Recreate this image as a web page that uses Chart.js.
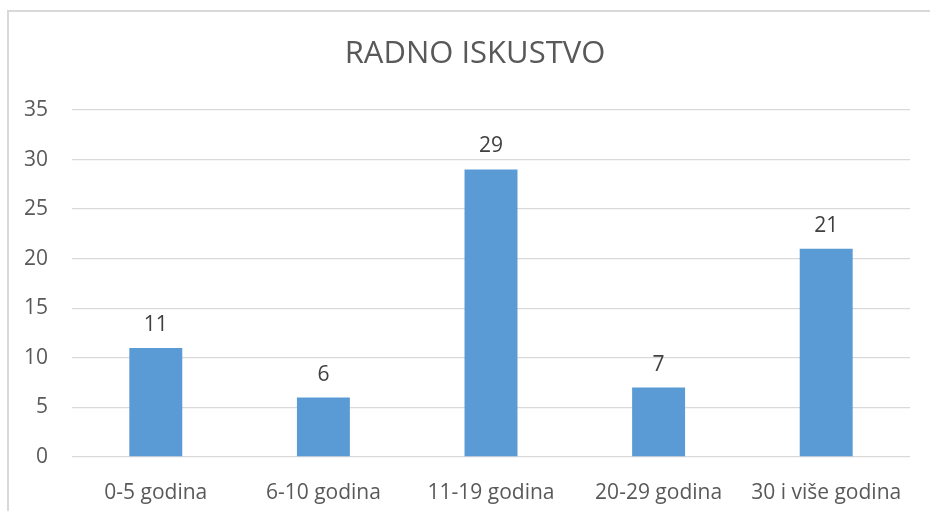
<!DOCTYPE html>
<html>
<head>
<meta charset="utf-8">
<script src="https://cdn.jsdelivr.net/npm/chart.js@4/dist/chart.umd.min.js"></script>
<style>
  body { margin: 0; background: #fff; }
  #wrap { position: relative; width: 930px; height: 511px; overflow: hidden; }
  #frame { position: absolute; left: 7px; top: 10px; width: 960px; height: 560px;
           border-top: 2px solid #d9d9d9; border-left: 2px solid #d9d9d9; }
  #c { position: absolute; left: 0; top: 0; }
</style>
</head>
<body>
<div id="wrap">
  <div id="frame"></div>
  <canvas id="c" width="930" height="511"></canvas>
</div>
<script>
const chartTitle = 'RADNO ISKUSTVO';
const categories = ['0-5 godina', '6-10 godina', '11-19 godina', '20-29 godina', '30 i više godina'];
const counts = [11, 6, 29, 7, 21];
const yMin = 0, yMax = 35, yStep = 5;

const textColor = '#595959';
const fontFamily = '"Open Sans", "Noto Sans", sans-serif';

// Excel-like title, centred a bit right of the canvas middle
const titlePlugin = {
  id: 'xlTitle',
  afterDraw(chart) {
    const ctx = chart.ctx;
    ctx.save();
    ctx.font = '31px ' + fontFamily;
    ctx.fillStyle = textColor;
    ctx.textAlign = 'center';
    ctx.textBaseline = 'middle';
    ctx.fillText(chartTitle, 475, 54);
    ctx.restore();
  }
};

// value labels above each bar
const valueLabels = {
  id: 'valueLabels',
  afterDatasetsDraw(chart) {
    const ctx = chart.ctx;
    ctx.save();
    ctx.font = '21px ' + fontFamily;
    ctx.fillStyle = '#404040';
    ctx.textAlign = 'center';
    ctx.textBaseline = 'alphabetic';
    chart.getDatasetMeta(0).data.forEach((bar, i) => {
      ctx.fillText(String(counts[i]), bar.x, bar.y - 17);
    });
    ctx.restore();
  }
};

new Chart(document.getElementById('c'), {
  type: 'bar',
  data: {
    labels: categories,
    datasets: [{
      data: counts,
      backgroundColor: '#5B9BD5',
      categoryPercentage: 1,
      barPercentage: 0.316
    }]
  },
  options: {
    responsive: false,
    animation: false,
    layout: { padding: { top: 110, right: 20, bottom: 0, left: 0 } },
    plugins: {
      legend: { display: false },
      tooltip: { enabled: false }
    },
    scales: {
      x: {
        grid: { display: false },
        border: { display: false },
        ticks: { color: textColor, font: { family: fontFamily, size: 21 }, padding: 15, maxRotation: 0 },
        afterFit(scale) { scale.height = 54; }
      },
      y: {
        min: yMin,
        max: yMax,
        grid: { color: '#d9d9d9', lineWidth: 1.3, drawTicks: false },
        border: { display: false },
        ticks: { stepSize: yStep, color: textColor, font: { family: fontFamily, size: 21 }, padding: 24 },
        afterFit(scale) { scale.width = 72; }
      }
    }
  },
  plugins: [titlePlugin, valueLabels]
});
</script>
</body>
</html>
